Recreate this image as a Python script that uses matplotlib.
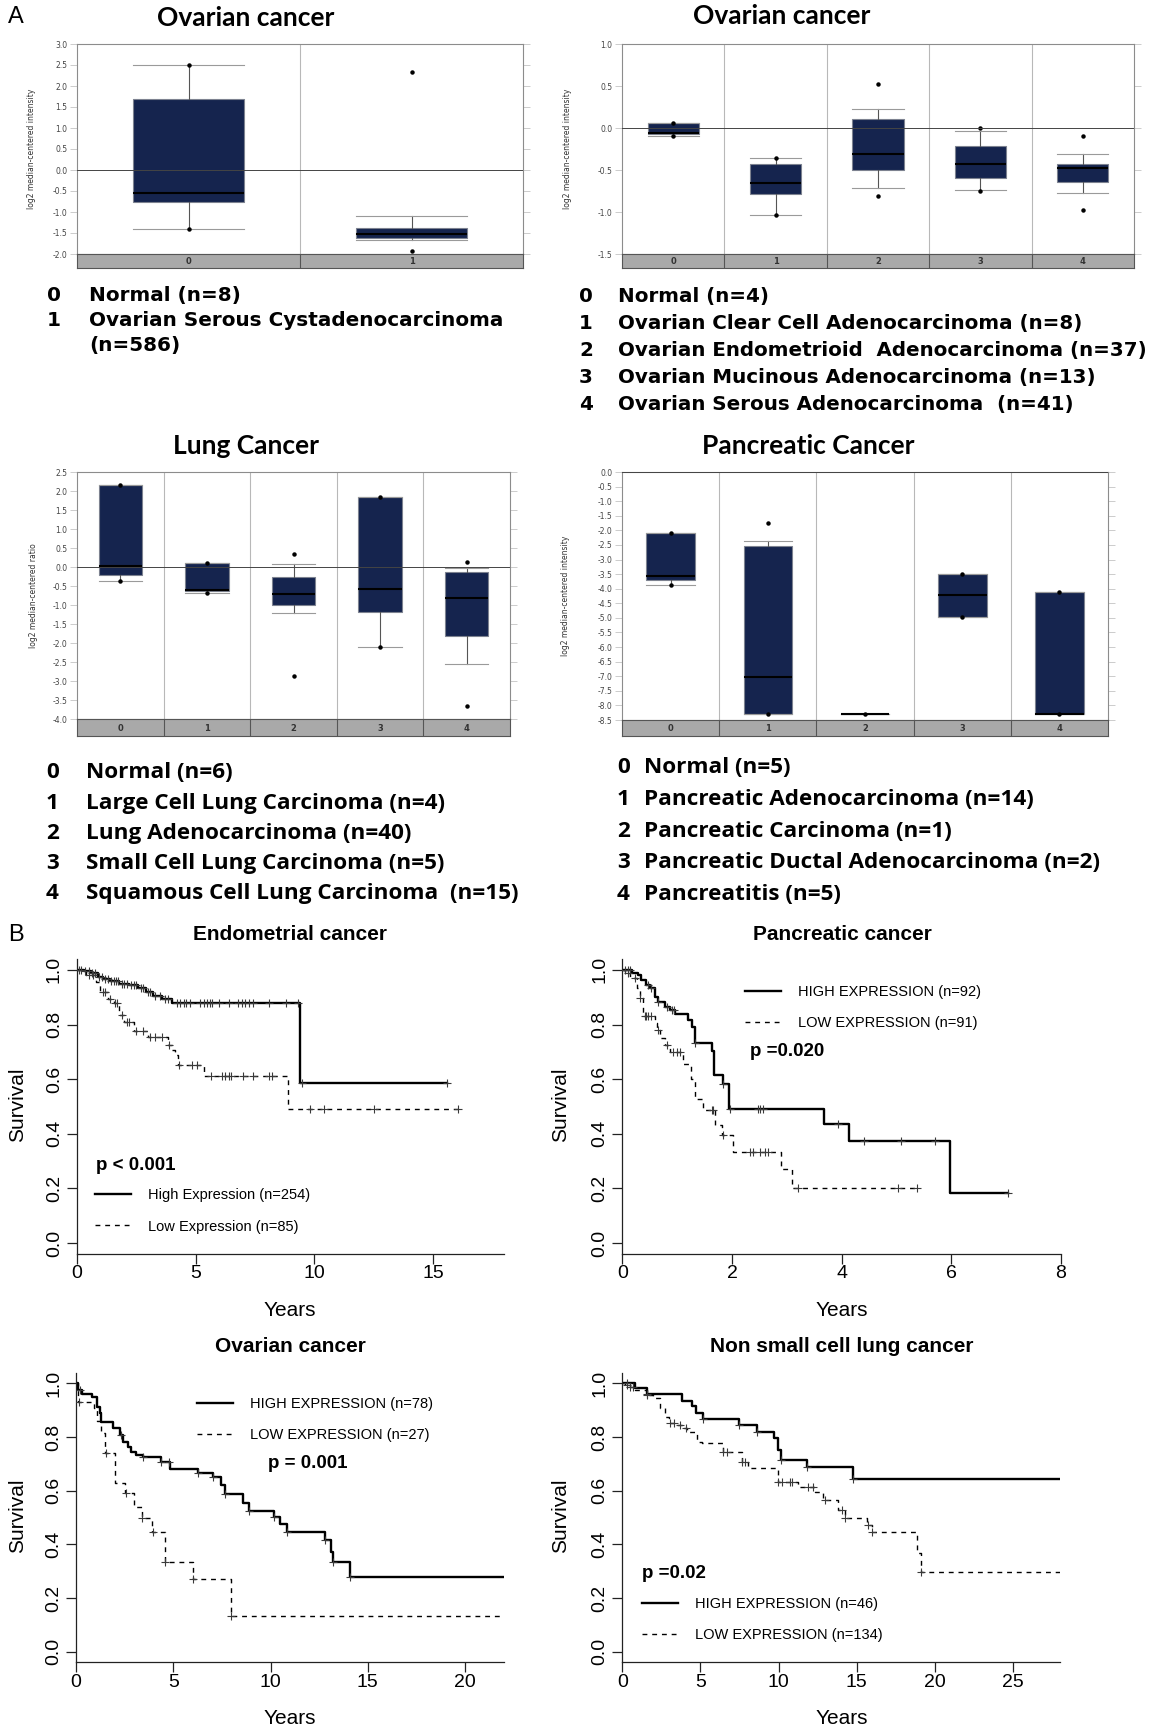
import numpy as np
import matplotlib.pyplot as plt

plt.rcParams['font.family'] = ['Liberation Sans', 'DejaVu Sans']
plt.rcParams['axes.unicode_minus'] = False

W, H = 1152, 1727
NAVY = '#15244e'

# ---------------- A: expression box plots (per group) ----------------
# lower whisker, q1, median, q3, upper whisker, min/max dots
ov1_lo = [-1.40, -1.67]
ov1_q1 = [-0.75, -1.63]
ov1_med = [-0.55, -1.52]
ov1_q3 = [1.69, -1.37]
ov1_hi = [2.50, -1.10]
ov1_dots = [[2.50, -1.40], [2.33, -1.94]]
ov1_yticks = [-2.0, -1.5, -1.0, -0.5, 0.0, 0.5, 1.0, 1.5, 2.0, 2.5, 3.0]
ov1_labels = ['Normal (n=8)', 'Ovarian Serous Cystadenocarcinoma\n(n=586)']

ov2_lo = [-0.10, -1.03, -0.72, -0.74, -0.77]
ov2_q1 = [-0.067, -0.78, -0.50, -0.59, -0.64]
ov2_med = [-0.055, -0.65, -0.31, -0.43, -0.48]
ov2_q3 = [0.06, -0.43, 0.11, -0.21, -0.425]
ov2_hi = [0.06, -0.36, 0.23, -0.03, -0.31]
ov2_dots = [[0.06, -0.10], [-0.36, -1.03], [0.52, -0.815], [0.0, -0.755], [-0.10, -0.98]]
ov2_yticks = [-1.5, -1.0, -0.5, 0.0, 0.5, 1.0]
ov2_labels = ['Normal (n=4)',
              'Ovarian Clear Cell Adenocarcinoma (n=8)',
              'Ovarian Endometrioid  Adenocarcinoma (n=37)',
              'Ovarian Mucinous Adenocarcinoma (n=13)',
              'Ovarian Serous Adenocarcinoma  (n=41)']

lung_lo = [-0.37, -0.68, -1.21, -2.10, -2.55]
lung_q1 = [-0.22, -0.63, -1.00, -1.18, -1.81]
lung_med = [0.02, -0.60, -0.70, -0.59, -0.82]
lung_q3 = [2.16, 0.10, -0.26, 1.85, -0.13]
lung_hi = [2.16, 0.10, 0.08, 1.85, -0.03]
lung_dots = [[2.16, -0.37], [0.10, -0.68], [0.345, -2.88], [1.85, -2.10], [0.12, -3.67]]
lung_yticks = [-4.0, -3.5, -3.0, -2.5, -2.0, -1.5, -1.0, -0.5, 0.0, 0.5, 1.0, 1.5, 2.0, 2.5]
lung_labels = ['Normal (n=6)',
               'Large Cell Lung Carcinoma (n=4)',
               'Lung Adenocarcinoma (n=40)',
               'Small Cell Lung Carcinoma (n=5)',
               'Squamous Cell Lung Carcinoma  (n=15)']

pan_lo = [-3.89, -8.29, -8.29, -4.96, -8.29]
pan_q1 = [-3.70, -8.29, -8.29, -4.96, -8.29]
pan_med = [-3.57, -7.01, -8.29, -4.23, -8.29]
pan_q3 = [-2.08, -2.55, -8.29, -3.49, -4.11]
pan_hi = [-2.08, -2.35, -8.29, -3.49, -4.11]
pan_dots = [[-2.08, -3.89], [-1.74, -8.29], [-8.29], [-3.49, -4.96], [-4.11, -8.29]]
pan_yticks = [-8.5, -8.0, -7.5, -7.0, -6.5, -6.0, -5.5, -5.0, -4.5, -4.0, -3.5,
              -3.0, -2.5, -2.0, -1.5, -1.0, -0.5, 0.0]
pan_labels = ['Normal (n=5)',
              'Pancreatic Adenocarcinoma (n=14)',
              'Pancreatic Carcinoma (n=1)',
              'Pancreatic Ductal Adenocarcinoma (n=2)',
              'Pancreatitis (n=5)']

# ---------------- B: Kaplan-Meier curves ----------------
# step times, survival after each step, last follow-up, censor times
endo_hi_t = [0, 0.3, 0.6, 0.9, 1.1, 1.4, 1.8, 2.2, 2.6, 2.9, 3.2, 3.6, 4.0, 9.4]
endo_hi_s = [1.0, 0.995, 0.99, 0.975, 0.965, 0.958, 0.95, 0.943, 0.935, 0.92, 0.905, 0.895, 0.88, 0.586]
endo_hi_end = 15.56
endo_hi_cens = [0.1, 0.2, 0.35, 0.5, 0.65, 0.75, 0.95, 1.05, 1.2, 1.3, 1.45, 1.55, 1.65, 1.75,
                1.9, 2.0, 2.1, 2.3, 2.4, 2.5, 2.7, 2.8, 3.0, 3.1, 3.3, 3.5, 3.7, 3.85, 4.2,
                4.35, 4.5, 4.6, 4.75, 5.2, 5.35, 5.5, 5.6, 5.7, 6.0, 6.4, 6.8, 6.95, 7.1,
                7.25, 7.4, 8.1, 8.8, 9.3, 9.5, 15.56]
endo_lo_t = [0, 0.4, 0.8, 1.0, 1.3, 1.55, 1.8, 2.0, 2.4, 3.0, 3.85, 4.0, 4.15, 4.25, 5.35, 8.9]
endo_lo_s = [1.0, 0.98, 0.955, 0.92, 0.895, 0.878, 0.835, 0.81, 0.776, 0.755, 0.725, 0.706,
             0.688, 0.651, 0.611, 0.49]
endo_lo_end = 16.06
endo_lo_cens = [0.5, 0.7, 1.1, 1.2, 1.4, 1.6, 1.7, 1.9, 2.1, 2.2, 2.5, 2.8, 3.1, 3.3, 3.6,
                3.9, 4.3, 4.85, 5.05, 5.65, 6.1, 6.25, 6.4, 6.5, 7.0, 7.4, 8.1, 8.2, 9.8,
                10.4, 12.5, 16.06]

panc_hi_t = [0, 0.17, 0.29, 0.35, 0.44, 0.5, 0.6, 0.66, 0.78, 0.87, 0.96, 1.19, 1.28, 1.33,
             1.63, 1.68, 1.84, 1.95, 3.67, 4.13, 5.98]
panc_hi_s = [1.0, 0.99, 0.98, 0.963, 0.945, 0.933, 0.90, 0.884, 0.865, 0.853, 0.84, 0.816,
             0.79, 0.734, 0.703, 0.614, 0.584, 0.492, 0.437, 0.375, 0.184]
panc_hi_end = 7.03
panc_hi_cens = [0.05, 0.1, 0.14, 0.47, 0.53, 0.66, 0.81, 0.9, 0.95, 1.33, 1.84, 1.97, 2.48,
                2.52, 2.57, 3.94, 4.41, 5.08, 5.71, 7.03]
panc_lo_t = [0, 0.05, 0.14, 0.26, 0.32, 0.38, 0.6, 0.64, 0.69, 0.78, 0.87, 1.1, 1.26, 1.33,
             1.48, 1.69, 1.81, 2.02, 2.9, 3.09]
panc_lo_s = [1.0, 0.988, 0.97, 0.933, 0.896, 0.83, 0.804, 0.78, 0.75, 0.725, 0.70, 0.657,
             0.602, 0.529, 0.486, 0.431, 0.394, 0.333, 0.272, 0.20]
panc_lo_end = 5.37
panc_lo_cens = [0.11, 0.23, 0.32, 0.41, 0.44, 0.47, 0.53, 0.66, 0.81, 0.93, 0.99, 1.05, 1.63,
                1.66, 1.84, 2.33, 2.39, 2.51, 2.6, 2.65, 3.2, 5.03, 5.37]

ovk_hi_t = [0, 0.12, 0.29, 0.8, 1.06, 1.23, 1.31, 1.91, 2.25, 2.42, 2.68, 2.85, 3.07, 3.45,
            4.39, 4.81, 6.26, 7.03, 7.46, 7.68, 8.57, 8.9, 10.19, 10.5, 10.87, 12.8, 13.09,
            13.2, 14.08]
ovk_hi_s = [1.0, 0.975, 0.96, 0.948, 0.913, 0.888, 0.857, 0.832, 0.807, 0.783, 0.764, 0.745,
            0.733, 0.724, 0.708, 0.679, 0.667, 0.65, 0.621, 0.586, 0.553, 0.524, 0.503, 0.476,
            0.447, 0.416, 0.373, 0.333, 0.277]
ovk_hi_end = 22.0
ovk_hi_cens = [0.2, 2.29, 3.45, 4.39, 4.78, 6.26, 7.03, 7.68, 8.9, 10.19, 10.87, 12.8, 13.2, 14.08]
ovk_lo_t = [0, 0.12, 0.92, 1.1, 1.3, 1.5, 2.0, 2.5, 3.0, 3.4, 3.9, 4.6, 6.0, 7.95]
ovk_lo_s = [1.0, 0.93, 0.907, 0.86, 0.815, 0.74, 0.63, 0.59, 0.54, 0.497, 0.447, 0.335, 0.27, 0.134]
ovk_lo_end = 22.0
ovk_lo_cens = [0.15, 1.55, 2.55, 3.4, 3.95, 4.6, 6.0, 7.95]

nsc_hi_t = [0, 0.81, 1.6, 3.8, 4.43, 4.71, 5.18, 7.46, 8.59, 9.7, 9.98, 10.15, 11.83, 14.73]
nsc_hi_s = [1.0, 0.981, 0.959, 0.934, 0.917, 0.89, 0.866, 0.845, 0.82, 0.795, 0.751, 0.716,
            0.689, 0.642]
nsc_hi_end = 28.0
nsc_hi_cens = [0.28, 1.6, 5.18, 7.46, 8.59, 10.15, 11.83, 14.73]
nsc_lo_t = [0, 0.17, 0.49, 0.81, 1.56, 1.98, 2.41, 2.73, 2.99, 3.5, 3.9, 4.12, 4.75, 5.12,
            6.46, 7.63, 8.06, 9.98, 11.26, 12.32, 12.86, 13.82, 14.24, 15.63, 15.95, 18.83, 19.1]
nsc_lo_s = [1.0, 0.994, 0.985, 0.975, 0.957, 0.944, 0.907, 0.876, 0.853, 0.845, 0.832, 0.82,
            0.783, 0.777, 0.745, 0.708, 0.683, 0.634, 0.613, 0.596, 0.565, 0.528, 0.5, 0.472,
            0.446, 0.367, 0.297]
nsc_lo_end = 28.0
nsc_lo_cens = [0.28, 0.49, 0.7, 1.56, 3.05, 3.33, 3.69, 4.05, 6.46, 6.67, 7.63, 7.85, 9.98,
               10.19, 10.72, 10.83, 11.9, 12.22, 12.96, 14.03, 14.24, 15.74, 15.95, 19.1]

fig = plt.figure(figsize=(W / 100, H / 100), dpi=100)


def rect(x0, y0, x1, y1):
    return [x0 / W, 1 - y1 / H, (x1 - x0) / W, (y1 - y0) / H]


def ftext(x, y, s, **kw):
    return fig.text(x / W, 1 - y / H, s, **kw)


def box_panel(box, bar_bottom, lo, q1, med, q3, hi, dots, yticks, ylab, ylab_x):
    x0, y0, x1, y1 = box
    ax = fig.add_axes(rect(x0, y0, x1, y1))
    n = len(med)
    stats = [dict(whislo=lo[i], q1=q1[i], med=med[i], q3=q3[i], whishi=hi[i], fliers=dots[i])
             for i in range(n)]
    ax.bxp(stats, positions=range(n), widths=0.5, capwidths=0.5, patch_artist=True,
           manage_ticks=False,
           boxprops=dict(facecolor=NAVY, edgecolor='#7d8290', linewidth=0.8),
           medianprops=dict(color='black', linewidth=1.5),
           whiskerprops=dict(color='#555555', linewidth=0.8),
           capprops=dict(color='#9a9a9a', linewidth=0.8),
           flierprops=dict(marker='o', markersize=2.2, markerfacecolor='black',
                           markeredgecolor='black'))
    ax.set_xlim(-0.5, n - 0.5)
    ax.set_ylim(yticks[0], yticks[-1])
    for i in range(1, n):
        ax.axvline(i - 0.5, color='#b8b8b8', lw=0.8, zorder=0)
    ax.axhline(0, color='#444444', lw=0.7, zorder=5)
    ax.set_yticks(yticks)
    ax.set_yticklabels(['%.1f' % v for v in yticks])
    ax.set_xticks([])
    ax.tick_params(axis='y', left=True, right=True, direction='out', length=5, width=0.6,
                   color='#c4c4c4', labelsize=5.5, labelcolor='#444444', pad=2)
    for sp in ax.spines.values():
        sp.set_color('#8c8c8c')
        sp.set_linewidth(0.8)
    for lab in ax.get_yticklabels():
        lab.set_family('DejaVu Sans')
    bar = fig.add_axes(rect(x0, y1, x1, bar_bottom))
    bar.set_facecolor('#a9a9a9')
    bar.set_xlim(-0.5, n - 0.5)
    bar.set_ylim(0, 1)
    bar.set_xticks([])
    bar.set_yticks([])
    for i in range(1, n):
        bar.axvline(i - 0.5, color='#555555', lw=0.8)
    for i in range(n):
        bar.text(i, 0.45, str(i), ha='center', va='center', fontsize=6, fontweight='bold',
                 color='#333333', family='DejaVu Sans')
    for sp in bar.spines.values():
        sp.set_color('#555555')
    ftext(ylab_x, (y0 + y1) / 2, ylab, rotation=90, ha='center', va='center', fontsize=5.5,
          color='#333333', family='DejaVu Sans')


def cat_legend(num_x, text_x, rows, labels, size, family):
    step = rows[1] - rows[0]
    for i, lab in enumerate(labels):
        ftext(num_x, rows[i], str(i), ha='left', va='center', fontsize=size,
              fontweight='bold', family=family)
        for j, part in enumerate(lab.split('\n')):
            ftext(text_x, rows[i] + j * step, part, ha='left', va='center', fontsize=size,
                  fontweight='bold', family=family)


def box_title(x, y, s):
    ftext(x, y, s, ha='center', va='center', fontsize=19, fontweight='bold', family='Lato')


# ---- panel A ----
ftext(16, 17, 'A', ha='center', va='center', fontsize=17)

box_panel((77, 44, 523, 254), 268, ov1_lo, ov1_q1, ov1_med, ov1_q3, ov1_hi, ov1_dots,
          ov1_yticks, 'log2 median-centered intensity', 32)
box_title(246, 18, 'Ovarian cancer')
cat_legend(47, 89, [295.5, 320.5], ov1_labels, 14.4, 'DejaVu Sans')

box_panel((622, 44, 1134, 254), 268, ov2_lo, ov2_q1, ov2_med, ov2_q3, ov2_hi, ov2_dots,
          ov2_yticks, 'log2 median-centered intensity', 568)
box_title(782, 16, 'Ovarian cancer')
cat_legend(579, 618, [296.5, 323.5, 350.5, 377.5, 404.5], ov2_labels, 14.3, 'DejaVu Sans')

box_panel((77, 472, 510, 719), 736, lung_lo, lung_q1, lung_med, lung_q3, lung_hi, lung_dots,
          lung_yticks, 'log2 median-centered ratio', 34)
box_title(246, 446, 'Lung Cancer')
cat_legend(46, 86, [772.5, 803.5, 833.5, 863.5, 893.5], lung_labels, 16.2, 'Open Sans')

box_panel((622, 472, 1108, 720), 736, pan_lo, pan_q1, pan_med, pan_q3, pan_hi, pan_dots,
          pan_yticks, 'log2 median-centered intensity', 566)
box_title(808, 446, 'Pancreatic Cancer')
cat_legend(617, 644, [767.5, 799.5, 831.5, 862.5, 894.5], pan_labels, 16.2, 'Open Sans')


# ---- panel B ----
def km_curve(ax, t, s, end, cens, **style):
    t = np.asarray(t, float)
    s = np.asarray(s, float)
    line, = ax.step(np.append(t, end), np.append(s, s[-1]), where='post', **style)
    c = np.asarray(cens, float)
    ax.plot(c, s[np.searchsorted(t, c, side='right') - 1], linestyle='none', marker='+',
            markersize=6, markeredgewidth=0.8, color='#3a3a3a', zorder=3)
    return line


def km_panel(box, xmax, xticks, title, tx, ty, hi, lo, labels, ptxt, ppos, legpos):
    x0, y0, x1, y1 = box
    ax = fig.add_axes(rect(x0, y0, x1, y1))
    h_line = km_curve(ax, *hi, color='black', lw=1.7)
    l_line = km_curve(ax, *lo, color='black', lw=1.0, linestyle=(0, (3.5, 3.5)))
    ax.set_xlim(0, xmax)
    ax.set_ylim(-0.04, 1.04)
    ax.spines[['top', 'right']].set_visible(False)
    for sp in ax.spines.values():
        sp.set_linewidth(0.9)
        sp.set_color('#222222')
    ax.set_xticks(xticks)
    yt = [0.0, 0.2, 0.4, 0.6, 0.8, 1.0]
    ax.set_yticks(yt)
    ax.set_yticklabels(['%.1f' % v for v in yt], rotation=90, va='center')
    ax.tick_params(direction='out', length=7, width=0.9, color='#222222', labelsize=14)
    ax.tick_params(axis='x', pad=1)
    ax.tick_params(axis='y', pad=3)
    lx = (legpos[0] - x0) / (x1 - x0)
    ly = (y1 - (legpos[1] - 8)) / (y1 - y0)
    ax.legend([h_line, l_line], labels, loc='upper left', bbox_to_anchor=(lx, ly),
              frameon=False, fontsize=10.5, handlelength=2.5, handletextpad=1.15,
              labelspacing=1.2, borderpad=0, borderaxespad=0)
    ftext(ppos[0], ppos[1], ptxt, ha='left', va='center', fontsize=13.5, fontweight='bold')
    ftext(tx, ty, title, ha='center', va='center', fontsize=15, fontweight='bold')
    ftext(tx, ty + (375 if ty < 1000 else 372), 'Years', ha='center', va='center', fontsize=15)
    ftext(18 if x0 < 300 else 561, (y0 + y1) / 2 - 2, 'Survival', rotation=90, ha='center',
          va='center', fontsize=15)
    return ax


ftext(16, 935, 'B', ha='center', va='center', fontsize=17)

km_panel((76.7, 959, 504.5, 1254), 18, [0, 5, 10, 15], 'Endometrial cancer', 290, 935,
         (endo_hi_t, endo_hi_s, endo_hi_end, endo_hi_cens),
         (endo_lo_t, endo_lo_s, endo_lo_end, endo_lo_cens),
         ['High Expression (n=254)', 'Low Expression (n=85)'],
         'p < 0.001', (96, 1165), (95, 1196))

km_panel((622.3, 959, 1061, 1254), 8, [0, 2, 4, 6, 8], 'Pancreatic cancer', 842, 935,
         (panc_hi_t, panc_hi_s, panc_hi_end, panc_hi_cens),
         (panc_lo_t, panc_lo_s, panc_lo_end, panc_lo_cens),
         ['HIGH EXPRESSION (n=92)', 'LOW EXPRESSION (n=91)'],
         'p =0.020', (750, 1052), (745, 993))

km_panel((76, 1372.6, 504, 1662.4), 22, [0, 5, 10, 15, 20], 'Ovarian cancer', 290, 1347,
         (ovk_hi_t, ovk_hi_s, ovk_hi_end, ovk_hi_cens),
         (ovk_lo_t, ovk_lo_s, ovk_lo_end, ovk_lo_cens),
         ['HIGH EXPRESSION (n=78)', 'LOW EXPRESSION (n=27)'],
         'p = 0.001', (268, 1463), (197, 1405))

km_panel((622.3, 1372.6, 1060, 1662.4), 28, [0, 5, 10, 15, 20, 25], 'Non small cell lung cancer',
         842, 1347,
         (nsc_hi_t, nsc_hi_s, nsc_hi_end, nsc_hi_cens),
         (nsc_lo_t, nsc_lo_s, nsc_lo_end, nsc_lo_cens),
         ['HIGH EXPRESSION (n=46)', 'LOW EXPRESSION (n=134)'],
         'p =0.02', (642, 1573), (642, 1605))

fig.savefig('out.png', dpi=100)
